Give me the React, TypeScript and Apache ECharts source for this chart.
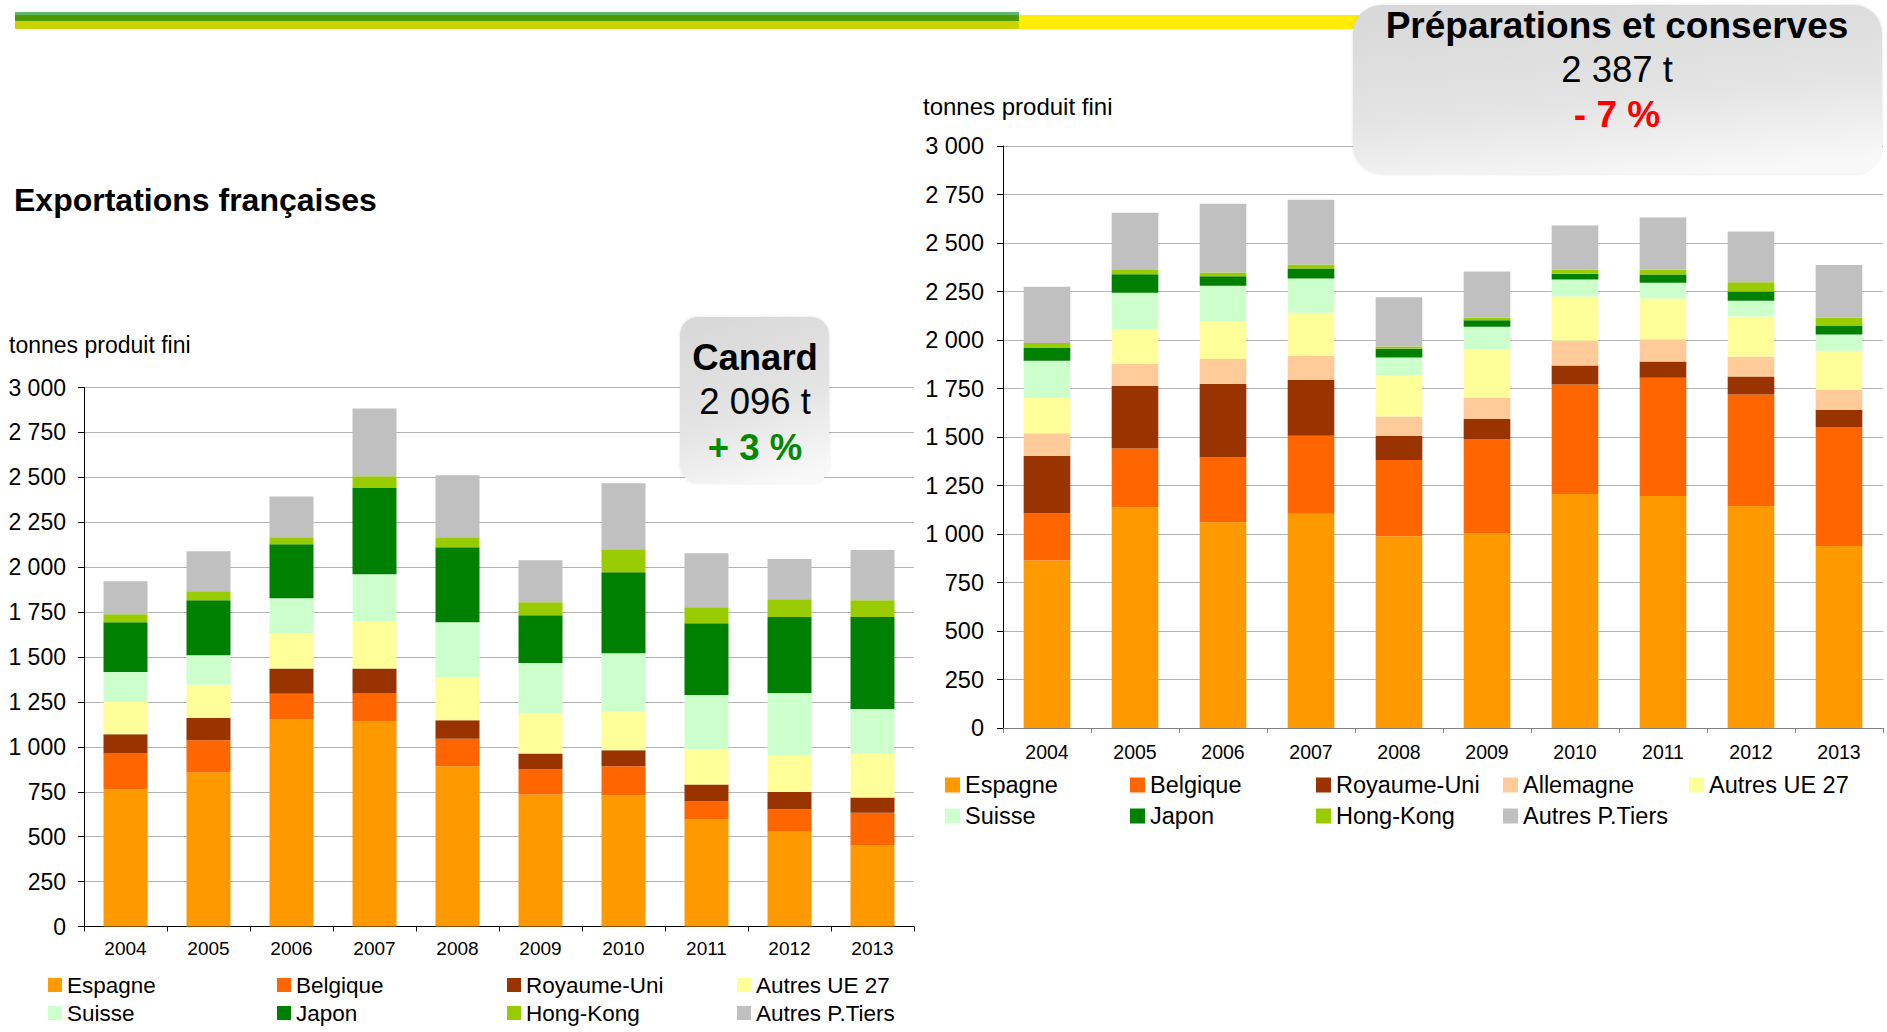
import React, { useEffect, useRef } from "react";
import * as echarts from "echarts";

const years = ["2004", "2005", "2006", "2007", "2008", "2009", "2010", "2011", "2012", "2013"];
const yTicks = { min: 0, max: 3000, interval: 250 };

// Canard (left chart), tonnes produit fini
const canardEspagne = [764, 859, 1154, 1143, 892, 735, 729, 596, 531, 453];
const canardBelgique = [199, 178, 141, 154, 153, 141, 163, 102, 122, 180];
const canardRoyaumeUni = [107, 123, 141, 139, 103, 87, 89, 92, 95, 85];
const canardAutresUE = [179, 185, 197, 260, 240, 221, 218, 197, 202, 243];
const canardSuisse = [167, 165, 194, 265, 306, 282, 322, 301, 349, 249];
const canardJapon = [278, 306, 301, 483, 417, 267, 451, 400, 423, 512];
const canardHongKong = [44, 50, 39, 62, 56, 72, 128, 89, 100, 94];
const canardAutresPT = [184, 223, 227, 377, 344, 234, 367, 301, 223, 280];

// Préparations et conserves (right chart)
const prepEspagne = [864, 1136, 1060, 1105, 988, 1005, 1206, 1196, 1144, 938];
const prepBelgique = [244, 305, 337, 402, 393, 485, 565, 609, 575, 614];
const prepRoyaumeUni = [294, 323, 378, 288, 124, 103, 98, 84, 93, 89];
const prepAllemagne = [117, 112, 127, 124, 101, 111, 127, 115, 103, 104];
const prepAutresUE = [182, 181, 196, 222, 211, 250, 228, 210, 206, 199];
const prepSuisse = [192, 187, 181, 176, 93, 114, 88, 81, 81, 84];
const prepJapon = [66, 95, 50, 51, 45, 34, 29, 43, 48, 47];
const prepHongKong = [26, 22, 19, 21, 11, 14, 22, 25, 48, 41];
const prepAutresPT = [289, 295, 354, 334, 254, 237, 227, 268, 261, 271];

const seriesNames = ["Espagne", "Belgique", "Royaume-Uni", "Allemagne", "Autres UE 27", "Suisse", "Japon", "Hong-Kong", "Autres P.Tiers"];
const seriesColors = ["#ff9900", "#ff6600", "#993300", "#ffcc99", "#ffff99", "#ccffcc", "#008000", "#99cc00", "#c0c0c0"];

const canardSeries = [
  ["Espagne", canardEspagne],
  ["Belgique", canardBelgique],
  ["Royaume-Uni", canardRoyaumeUni],
  ["Autres UE 27", canardAutresUE],
  ["Suisse", canardSuisse],
  ["Japon", canardJapon],
  ["Hong-Kong", canardHongKong],
  ["Autres P.Tiers", canardAutresPT],
] as [string, number[]][];

const prepSeries = [
  ["Espagne", prepEspagne],
  ["Belgique", prepBelgique],
  ["Royaume-Uni", prepRoyaumeUni],
  ["Allemagne", prepAllemagne],
  ["Autres UE 27", prepAutresUE],
  ["Suisse", prepSuisse],
  ["Japon", prepJapon],
  ["Hong-Kong", prepHongKong],
  ["Autres P.Tiers", prepAutresPT],
] as [string, number[]][];

const leftLegendRows = [
  ["Espagne", "Belgique", "Royaume-Uni", "Autres UE 27"],
  ["Suisse", "Japon", "Hong-Kong", "Autres P.Tiers"],
];
const rightLegendRows = [
  ["Espagne", "Belgique", "Royaume-Uni", "Allemagne", "Autres UE 27"],
  ["Suisse", "Japon", "Hong-Kong", "Autres P.Tiers"],
];

const FONT = "'Liberation Sans', Arial, Helvetica, sans-serif";

const fmt = (v: number) =>
  v >= 1000 ? `${Math.floor(v / 1000)} ${String(v % 1000).padStart(3, "0")}` : String(v);

const colorOf = (name: string) => seriesColors[seriesNames.indexOf(name)];

export default function App() {
  const ref = useRef<HTMLDivElement>(null);

  useEffect(() => {
    if (!ref.current) return;
    const chart = echarts.init(ref.current, undefined, { renderer: "svg" });

    const yAxisBase = (gridIndex: number, fontSize: number, margin: number) => ({
      type: "value",
      gridIndex,
      min: yTicks.min,
      max: yTicks.max,
      interval: yTicks.interval,
      axisLine: { show: true, lineStyle: { color: "#000", width: 1 } },
      axisTick: { show: true, length: 6, lineStyle: { color: "#000" } },
      axisLabel: { formatter: fmt, fontSize, color: "#000", fontFamily: FONT, margin },
      splitLine: { show: true, lineStyle: { color: "#b4b4b4", width: 1 } },
    });

    const xAxisBase = (gridIndex: number, fontSize: number, margin: number, lineColor: string) => ({
      type: "category",
      gridIndex,
      data: years,
      axisLine: { show: true, lineStyle: { color: lineColor, width: 1 } },
      axisTick: { show: true, length: 5, interval: 0, lineStyle: { color: lineColor } },
      axisLabel: { fontSize, color: "#000", fontFamily: FONT, margin, interval: 0 },
    });

    const series: any[] = [];
    canardSeries.forEach(([name, data]) =>
      series.push({
        type: "bar",
        name,
        stack: "canard",
        xAxisIndex: 0,
        yAxisIndex: 0,
        barWidth: "53%",
        data,
        itemStyle: { color: colorOf(name) },
      })
    );
    prepSeries.forEach(([name, data]) =>
      series.push({
        type: "bar",
        name,
        stack: "prep",
        xAxisIndex: 1,
        yAxisIndex: 1,
        barWidth: "53%",
        data,
        itemStyle: { color: colorOf(name) },
      })
    );

    const legends: any[] = [];
    const leftCols = [48, 277, 507, 737];
    const leftRowsY = [985, 1013];
    leftLegendRows.forEach((row, r) =>
      row.forEach((name, c) =>
        legends.push({
          data: [name],
          left: leftCols[c],
          top: leftRowsY[r] - 12,
          padding: 0,
          icon: "rect",
          itemWidth: 14,
          itemHeight: 14,
          selectedMode: false,
          textStyle: { fontSize: 22.5, color: "#000", fontFamily: FONT, lineHeight: 24 },
        })
      )
    );
    const rightCols = [945, 1130, 1316, 1503, 1689];
    const rightRowsY = [785, 816];
    rightLegendRows.forEach((row, r) =>
      row.forEach((name, c) =>
        legends.push({
          data: [name],
          left: rightCols[c],
          top: rightRowsY[r] - 12,
          padding: 0,
          icon: "rect",
          itemWidth: 15,
          itemHeight: 15,
          selectedMode: false,
          textStyle: { fontSize: 23.5, color: "#000", fontFamily: FONT, lineHeight: 24 },
        })
      )
    );

    const boxFill = () =>
      new echarts.graphic.LinearGradient(0.35, 0, 0.65, 1, [
        { offset: 0, color: "#d9d9d9" },
        { offset: 0.55, color: "#e4e4e4" },
        { offset: 1, color: "#f8f8f8" },
      ]);

    const txt = (text: string, x: number, y: number, fontSize: number, bold: boolean, fill = "#000", align = "center") => ({
      type: "text",
      x,
      y,
      z: 10,
      style: {
        text,
        fontSize,
        fontWeight: bold ? "bold" : "normal",
        fontFamily: FONT,
        fill,
        align,
        verticalAlign: "middle",
      },
    });

    const option: any = {
      animation: false,
      backgroundColor: "#fff",
      grid: [
        { left: 84, top: 387.5, width: 830, height: 539 },
        { left: 1003, top: 146, width: 880, height: 582 },
      ],
      xAxis: [xAxisBase(0, 19, 12, "#000"), xAxisBase(1, 19.5, 14, "#808080")],
      yAxis: [yAxisBase(0, 23, 18), yAxisBase(1, 23.5, 19)],
      legend: legends,
      series,
      graphic: [
        // header bands
        { type: "rect", shape: { x: 15, y: 12, width: 1004, height: 3 }, style: { fill: "#62b86a" } },
        { type: "rect", shape: { x: 15, y: 15, width: 1004, height: 6.5 }, style: { fill: "#4e9a06" } },
        { type: "rect", shape: { x: 15, y: 21.5, width: 1004, height: 7.5 }, style: { fill: "#c9d400" } },
        { type: "rect", shape: { x: 1019, y: 15, width: 360, height: 14 }, style: { fill: "#ffec00" } },
        // Préparations box
        {
          type: "rect",
          z: 5,
          shape: { x: 1353, y: 5, width: 529, height: 169, r: 28 },
          style: { fill: boxFill(), shadowBlur: 3, shadowColor: "rgba(0,0,0,0.12)" },
        },
        txt("Préparations et conserves", 1617, 25, 37, true),
        txt("2 387 t", 1617, 69, 36.5, false),
        txt("- 7 %", 1617, 114, 37, true, "#ff0000"),
        // Canard box
        {
          type: "rect",
          z: 5,
          shape: { x: 680, y: 317, width: 149, height: 166, r: 18 },
          style: { fill: boxFill(), shadowBlur: 3, shadowColor: "rgba(0,0,0,0.12)" },
        },
        txt("Canard", 755, 357, 36.5, true),
        txt("2 096 t", 755, 401, 36.5, false),
        txt("+ 3 %", 755, 447, 36.5, true, "#008a00"),
        // titles
        txt("Exportations françaises", 14, 200, 32, true, "#000", "left"),
        txt("tonnes produit fini", 9, 345, 23, false, "#000", "left"),
        txt("tonnes produit fini", 923, 106, 24, false, "#000", "left"),
      ],
    };

    chart.setOption(option);
    return () => chart.dispose();
  }, []);

  return (
    <div
      ref={ref}
      style={{ position: "absolute", left: 0, top: 0, width: 1887, height: 1032, background: "#fff" }}
    />
  );
}
